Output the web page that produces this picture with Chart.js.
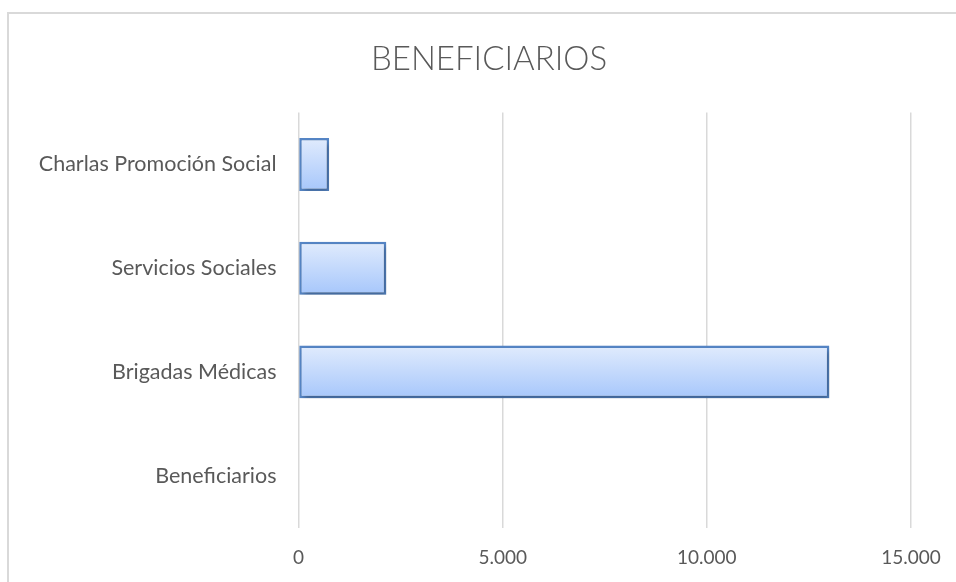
<!DOCTYPE html>
<html>
<head>
<meta charset="utf-8">
<script src="https://cdn.jsdelivr.net/npm/chart.js@4.4.0/dist/chart.umd.min.js"></script>
<style>
    body { margin: 0; background: #fff; }
    #wrap { position: relative; width: 956px; height: 582px; overflow: hidden; }
    #frame { position: absolute; left: 7px; top: 12px; width: 1000px; height: 700px;
             border-left: 2px solid #d9d9d9; border-top: 2px solid #d9d9d9; }
    canvas { position: absolute; left: 0; top: 0; }
</style>
</head>
<body>
<div id="wrap">
    <div id="frame"></div>
    <canvas id="beneficiariosChart" width="956" height="582"></canvas>
</div>
<script>
// --- Data (top to bottom as shown) ---
const categories = ['Charlas Promoción Social', 'Servicios Sociales', 'Brigadas Médicas', 'Beneficiarios'];
const beneficiarios = [750, 2150, 13000, 0];
const xTicks = [0, 5000, 10000, 15000];

const textColor = '#595959';
const fontFamily = 'Lato, "Open Sans", sans-serif';

// bar shadow like the office chart
const shadowPlugin = {
    id: 'barShadow',
    beforeDatasetDraw(chart) {
        const c = chart.ctx;
        c.save();
        c.shadowColor = 'rgba(0,0,0,0.3)';
        c.shadowBlur = 5;
        c.shadowOffsetX = 2;
        c.shadowOffsetY = 3;
    },
    afterDatasetDraw(chart) {
        chart.ctx.restore();
    }
};

// title is centred over the whole chart box (frame starts at x=8), not over the plot
const titleCenter = {
    id: 'titleCenter',
    afterLayout(chart) {
        if (chart.titleBlock) {
            chart.titleBlock.left = 22;
            chart.titleBlock.right = 956;
        }
    }
};

function barGradient(context) {
    const chart = context.chart;
    if (!chart.chartArea) return '#c4d9fd';
    const yScale = chart.scales.y;
    const center = yScale.getPixelForValue(context.dataIndex);
    const half = yScale.height / categories.length * 0.25;
    const g = chart.ctx.createLinearGradient(0, center - half, 0, center + half);
    g.addColorStop(0, '#e0ebfd');
    g.addColorStop(1, '#a7c7fb');
    return g;
}

const ctx = document.getElementById('beneficiariosChart').getContext('2d');
new Chart(ctx, {
    type: 'bar',
    data: {
        labels: categories,
        datasets: [{
            label: 'Beneficiarios',
            data: beneficiarios,
            backgroundColor: barGradient,
            borderColor: '#5585c5',
            borderWidth: 2.5,
            borderSkipped: false,
            barPercentage: 0.51,
            categoryPercentage: 1.0
        }]
    },
    options: {
        indexAxis: 'y',
        responsive: false,
        animation: false,
        layout: { padding: { left: 0, right: 45, top: 0, bottom: 0 } },
        plugins: {
            legend: { display: false },
            tooltip: { enabled: false },
            title: {
                display: true,
                text: 'BENEFICIARIOS',
                color: textColor,
                font: { family: fontFamily, size: 33, weight: '300' },
                padding: { top: 40, bottom: 33 }
            }
        },
        scales: {
            x: {
                min: 0,
                max: 15000,
                afterBuildTicks(scale) {
                    scale.ticks = xTicks.map(v => ({ value: v }));
                },
                afterFit(scale) {
                    scale.height = 54.5;
                    scale.paddingLeft = 0;
                    scale.paddingRight = 0;
                },
                grid: { color: '#d9d9d9', lineWidth: 1.5, drawTicks: false },
                border: { display: false },
                ticks: {
                    color: textColor,
                    padding: 19,
                    font: { family: fontFamily, size: 19 },
                    callback: v => v.toLocaleString('de-DE')
                }
            },
            y: {
                afterFit(scale) { scale.width = 298.5; },
                grid: { display: false, drawTicks: false },
                border: { display: false },
                ticks: {
                    color: textColor,
                    padding: 22,
                    font: { family: fontFamily, size: 21.5 }
                }
            }
        }
    },
    plugins: [shadowPlugin, titleCenter]
});
</script>
</body>
</html>
